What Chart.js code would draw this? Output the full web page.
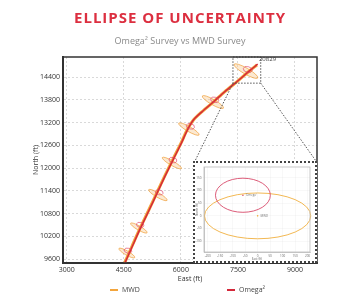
<!DOCTYPE html>
<html><head><meta charset="utf-8">
<script src="https://cdn.jsdelivr.net/npm/chart.js@4.4.1/dist/chart.umd.min.js"></script>
<style>
html,body{margin:0;padding:0;background:#fff;}
#wrap{position:relative;width:360px;height:300px;overflow:hidden;font-family:"Open Sans",sans-serif;}
#main{position:absolute;left:0;top:0;}
#title{position:absolute;left:0;width:360px;top:7px;text-align:center;font-weight:700;font-size:15px;color:#dc2f40;line-height:20px;letter-spacing:1px;}
#sub{position:absolute;left:0;width:360px;top:35px;text-align:center;font-size:9px;color:#8a8a8a;line-height:12px;}
#insetBox{position:absolute;left:193px;top:161px;width:120px;height:98px;border:2px dotted #444;background:#fff;}
#inset{position:absolute;left:0;top:0;}
.leg{position:absolute;top:284px;font-size:7px;color:#444;line-height:12px;font-family:"Open Sans",sans-serif;}
.leg i{display:inline-block;width:8px;height:1.5px;vertical-align:middle;margin-right:4px;}
</style></head>
<body><div id="wrap">
<canvas id="main" width="360" height="300"></canvas>
<div id="title">ELLIPSE OF UNCERTAINTY</div>
<div id="sub">Omega² Survey vs MWD Survey</div>
<div id="insetBox"><canvas id="inset" width="120" height="98"></canvas></div>
<div class="leg" style="left:110px"><i style="background:#f3a53c"></i>MWD</div>
<div class="leg" style="left:227px"><i style="background:#d4283a"></i>Omega²</div>
</div>
<script>
// ---- data (ft) ----
const mwdEast  = [4520, 4720, 4930, 5150, 5370, 5580, 5800, 6000, 6170, 6330, 6550, 6850, 7150, 7500, 7800, 8000];
const mwdNorth = [9500, 9950, 10420, 10880, 11350, 11800, 12250, 12650, 13020, 13270, 13480, 13740, 14010, 14300, 14560, 14720];
const omegaEast  = [4530, 4730, 4940, 5160, 5380, 5590, 5810, 6010, 6180, 6340, 6560, 6860, 7160, 7510, 7810, 8020];
const omegaNorth = [9500, 9950, 10420, 10880, 11350, 11800, 12250, 12650, 13020, 13280, 13490, 13750, 14020, 14310, 14570, 14740];

const mwdEllEast  = [4579, 4895, 5395, 5763, 6211, 6842, 7711];
const mwdEllNorth = [9758, 10418, 11288, 12132, 13029, 13741, 14558];
const mwdEllMajor = [240, 250, 280, 290, 310, 320, 360];
const mwdEllMinor = [55, 55, 60, 60, 65, 70, 80];
const mwdEllTilt  = [30, 30, 30, 30, 30, 30, 30];

const omegaEllEast  = [4610, 4930, 5430, 5790, 6250, 6890, 7760];
const omegaEllNorth = [9820, 10500, 11360, 12210, 13100, 13800, 14600];
const omegaEllMajor = [100, 100, 105, 105, 110, 110, 120];
const omegaEllMinor = [65, 65, 65, 70, 70, 70, 75];
const omegaEllTilt  = [15, 15, 15, 15, 15, 15, 15];

const xTicks = [3000, 4500, 6000, 7500, 9000];
const yTicks = [9600, 10200, 10800, 11400, 12000, 12600, 13200, 13800, 14400];
const endLabel = '20829';
const zoomEast = [7370, 8100];
const zoomNorthBottom = 14240;

// inset (relative ft)
const insetEast  = [0, -59];
const insetNorth = [0, 81];
const insetSemiEast  = [213, 110];
const insetSemiNorth = [90, 67];
const insetNames = ['MWD', 'Omega²'];
const insetXTicks = [-200,-150,-100,-50,0,50,100,150,200];
const insetYTicks = [-100,-50,0,50,100,150];

const ORANGE = '#f3a53c', RED = '#d4283a';

function ellipse(ctx, chart, e, n, maj, minr, tilt, stroke, fill, lw){
  const xs = chart.scales.x, ys = chart.scales.y;
  const cx = xs.getPixelForValue(e), cy = ys.getPixelForValue(n);
  const rx = Math.abs(xs.getPixelForValue(e+maj) - cx);
  const ry = Math.abs(ys.getPixelForValue(n+minr) - cy);
  ctx.beginPath();
  ctx.ellipse(cx, cy, rx, ry, tilt*Math.PI/180, 0, Math.PI*2);
  if (fill){ ctx.fillStyle = fill; ctx.fill(); }
  ctx.strokeStyle = stroke; ctx.lineWidth = lw; ctx.stroke();
}

const mainPlugin = {
  id: 'mainDeco',
  beforeDatasetsDraw(chart){
    const ctx = chart.ctx; ctx.save();
    mwdEllEast.forEach((e,i)=> ellipse(ctx, chart, e, mwdEllNorth[i], mwdEllMajor[i], mwdEllMinor[i], mwdEllTilt[i], 'rgba(240,160,60,0.9)', 'rgba(247,200,140,0.4)', 0.8));
    ctx.restore();
  },
  afterDatasetsDraw(chart){
    const ctx = chart.ctx; const xs = chart.scales.x, ys = chart.scales.y; const a = chart.chartArea;
    ctx.save();
    omegaEllEast.forEach((e,i)=> ellipse(ctx, chart, e, omegaEllNorth[i], omegaEllMajor[i], omegaEllMinor[i], omegaEllTilt[i], 'rgba(222,60,100,0.9)', null, 0.7));
    // end label
    const li = mwdEast.length-1;
    ctx.fillStyle = '#444'; ctx.font = '6px "Open Sans"'; ctx.textBaseline = 'middle'; ctx.textAlign='left';
    ctx.fillText(endLabel, xs.getPixelForValue(mwdEast[li]) + 2, ys.getPixelForValue(mwdNorth[li]) - 6);
    // zoom box
    const zx0 = xs.getPixelForValue(zoomEast[0]), zx1 = xs.getPixelForValue(zoomEast[1]);
    const zy1 = ys.getPixelForValue(zoomNorthBottom);
    ctx.strokeStyle = '#555'; ctx.lineWidth = 1; ctx.setLineDash([1.5,1.5]);
    ctx.strokeRect(zx0, a.top, zx1-zx0, zy1-a.top);
    const box = document.getElementById('insetBox');
    const bl = box.offsetLeft + 2, br = box.offsetLeft + box.offsetWidth - 1, bt = box.offsetTop;
    ctx.beginPath(); ctx.moveTo(zx0, zy1); ctx.lineTo(bl, bt); ctx.moveTo(zx1, zy1); ctx.lineTo(br, bt); ctx.stroke();
    ctx.setLineDash([]);
    // frame
    ctx.strokeStyle = '#333'; ctx.lineWidth = 1.5;
    ctx.strokeRect(a.left, a.top, a.right-a.left, a.bottom-a.top);
    ctx.restore();
  }
};

const tickFont = {family:'"Open Sans"', size:7};
new Chart(document.getElementById('main'), {
  type: 'scatter',
  data: { datasets: [
    { label:'Omega²', data: omegaEast.map((e,i)=>({x:e, y:omegaNorth[i]})), showLine:true, borderColor:RED, borderWidth:1.5, pointRadius:0, tension:0.3 },
    { label:'MWD', data: mwdEast.map((e,i)=>({x:e, y:mwdNorth[i]})), showLine:true, borderColor:ORANGE, borderWidth:3, pointRadius:0, tension:0.3 }
  ]},
  options: {
    responsive:false, animation:false, devicePixelRatio:1,
    layout:{padding:{left:0, right:43, top:57, bottom:0}},
    plugins:{legend:{display:false}, tooltip:{enabled:false}},
    scales:{
      x:{ type:'linear', min:2900, max:9580,
        afterBuildTicks: s=>{ s.ticks = xTicks.map(v=>({value:v})); },
        afterFit: s=>{ s.height = 37; },
        ticks:{ font:tickFont, color:'#333', padding:3, maxRotation:0, autoSkip:false, callback:v=>String(v) },
        grid:{ color:'#d0d0d0', lineWidth:0.8, drawTicks:false },
        border:{ display:true, color:'#333', width:2, dash:[2,2] },
        title:{ display:true, text:'East (ft)', font:tickFont, color:'#333', padding:{top:0,bottom:16.5} }
      },
      y:{ type:'linear', min:9495, max:14930,
        afterBuildTicks: s=>{ s.ticks = yTicks.map(v=>({value:v})); },
        afterFit: s=>{ s.width = 63; },
        ticks:{ font:tickFont, color:'#333', padding:3, autoSkip:false, callback:v=>String(v) },
        grid:{ color:'#d0d0d0', lineWidth:0.8, drawTicks:false },
        border:{ display:true, color:'#333', width:2, dash:[2,2] },
        title:{ display:true, text:'North (ft)', font:tickFont, color:'#333', padding:{top:31.5,bottom:0} }
      }
    }
  },
  plugins:[mainPlugin]
});

// ---- inset ----
const insetPlugin = {
  id:'insetDeco',
  afterDatasetsDraw(chart){
    const ctx = chart.ctx; const xs = chart.scales.x, ys = chart.scales.y;
    ctx.save();
    const cols = ['#f0b040', '#d84a6a'];
    insetEast.forEach((e,i)=>{
      const cx = xs.getPixelForValue(e), cy = ys.getPixelForValue(insetNorth[i]);
      const rx = Math.abs(xs.getPixelForValue(e+insetSemiEast[i]) - cx);
      const ry = Math.abs(ys.getPixelForValue(insetNorth[i]+insetSemiNorth[i]) - cy);
      ctx.beginPath(); ctx.ellipse(cx, cy, rx, ry, 0, 0, Math.PI*2);
      ctx.strokeStyle = cols[i]; ctx.lineWidth = 0.9; ctx.stroke();
      ctx.fillStyle = '#777'; ctx.font = '3px "Open Sans"'; ctx.textBaseline='middle';
      ctx.fillText(insetNames[i], cx + 3, cy);
    });
    ctx.restore();
  }
};
const tiny = {family:'"Open Sans"', size:3};
new Chart(document.getElementById('inset'), {
  type:'scatter',
  data:{ datasets:[{ data: insetEast.map((e,i)=>({x:e,y:insetNorth[i]})), pointRadius:0.8, pointBackgroundColor:['#f0b040','#d84a6a'], pointBorderWidth:0 }]},
  options:{
    responsive:false, animation:false, devicePixelRatio:1,
    layout:{padding:{left:0,right:5,top:2,bottom:0}},
    plugins:{legend:{display:false}, tooltip:{enabled:false}},
    scales:{
      x:{ type:'linear', min:-215, max:210,
        afterBuildTicks: s=>{ s.ticks = insetXTicks.map(v=>({value:v})); },
        afterFit: s=>{ s.height = 9; },
        ticks:{ font:tiny, color:'#666', padding:1, maxRotation:0, autoSkip:false },
        grid:{ color:'rgba(0,0,0,0.06)', lineWidth:0.5, tickLength:1.5 },
        border:{ color:'#bbb', width:0.8 },
        title:{ display:true, text:'East (ft)', font:tiny, color:'#666', padding:0 }
      },
      y:{ type:'linear', min:-142, max:192,
        afterBuildTicks: s=>{ s.ticks = insetYTicks.map(v=>({value:v})); },
        afterFit: s=>{ s.width = 9; },
        ticks:{ font:tiny, color:'#666', padding:1, autoSkip:false },
        grid:{ color:'rgba(0,0,0,0.06)', lineWidth:0.5, tickLength:1.5 },
        border:{ color:'#bbb', width:0.8 },
        title:{ display:true, text:'North (ft)', font:tiny, color:'#666', padding:0 }
      }
    }
  },
  plugins:[{id:'frame', afterDraw(c){const a=c.chartArea, x=c.ctx; x.save(); x.strokeStyle='#bbb'; x.lineWidth=0.8; x.strokeRect(a.left,a.top,a.right-a.left,a.bottom-a.top); x.restore();}}, insetPlugin]
});
</script>
</body></html>
